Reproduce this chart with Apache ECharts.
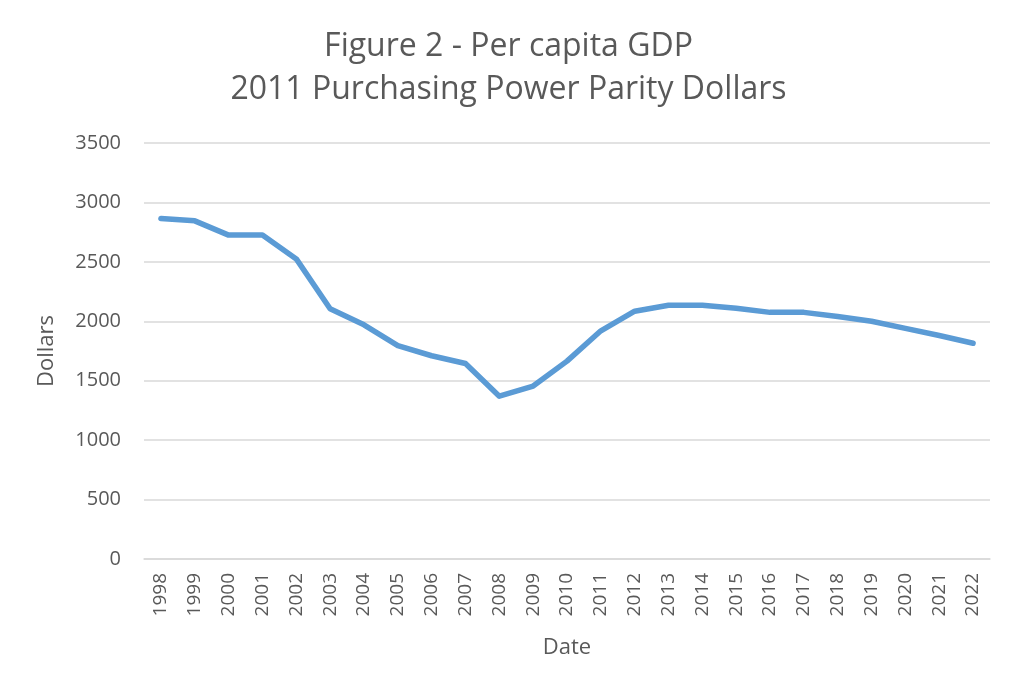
<!DOCTYPE html>
<html>
<head>
<meta charset="utf-8">
<script src="https://cdn.jsdelivr.net/npm/echarts@6/dist/echarts.min.js"></script>
<style>
html,body{margin:0;padding:0;background:#fff;}
#chart{width:1017px;height:696px;}
</style>
</head>
<body>
<div id="chart"></div>
<script>
var years = ['1998','1999','2000','2001','2002','2003','2004','2005','2006','2007','2008','2009','2010','2011','2012','2013','2014','2015','2016','2017','2018','2019','2020','2021','2022'];
var gdp = [2865,2845,2725,2725,2525,2105,1970,1795,1710,1645,1370,1455,1665,1920,2085,2135,2135,2110,2075,2075,2040,2000,1940,1880,1815];
var yTicks = [0,500,1000,1500,2000,2500,3000,3500];
var titleLines = ['Figure 2 - Per capita GDP','2011 Purchasing Power Parity Dollars'];

var chart = echarts.init(document.getElementById('chart'));
var font = '"Open Sans", "Liberation Sans", sans-serif';
chart.setOption({
  backgroundColor: '#ffffff',
  animation: false,
  title: {
    text: titleLines.join('\n'),
    left: 'center',
    top: 20,
    textStyle: {fontFamily: font, fontSize: 32, fontWeight: 'normal', color: '#595959', lineHeight: 43}
  },
  grid: {left: 144, right: 27, top: 143, bottom: 137},
  xAxis: {
    type: 'category',
    data: years,
    boundaryGap: true,
    name: 'Date',
    nameLocation: 'middle',
    nameGap: 78,
    nameTextStyle: {fontFamily: font, fontSize: 22, color: '#595959'},
    axisLine: {show: true, lineStyle: {color: '#D9D9D9', width: 1.5}},
    axisTick: {show: false},
    axisLabel: {rotate: 90, interval: 0, margin: 14, fontFamily: font, fontSize: 19, color: '#595959'}
  },
  yAxis: {
    type: 'value',
    min: yTicks[0],
    max: yTicks[yTicks.length - 1],
    interval: 500,
    name: 'Dollars',
    nameLocation: 'middle',
    nameGap: 86,
    nameRotate: 90,
    nameTextStyle: {fontFamily: font, fontSize: 22, color: '#595959'},
    axisLine: {show: false},
    axisTick: {show: false},
    axisLabel: {margin: 23, fontFamily: font, fontSize: 20, color: '#595959', formatter: function (v) { return String(v); }},
    splitLine: {lineStyle: {color: '#D9D9D9', width: 1.5}}
  },
  series: [{
    type: 'line',
    data: gdp,
    symbol: 'none',
    lineStyle: {color: '#5B9BD5', width: 5.5, cap: 'round', join: 'round'},
    itemStyle: {color: '#5B9BD5'}
  }]
});
</script>
</body>
</html>
